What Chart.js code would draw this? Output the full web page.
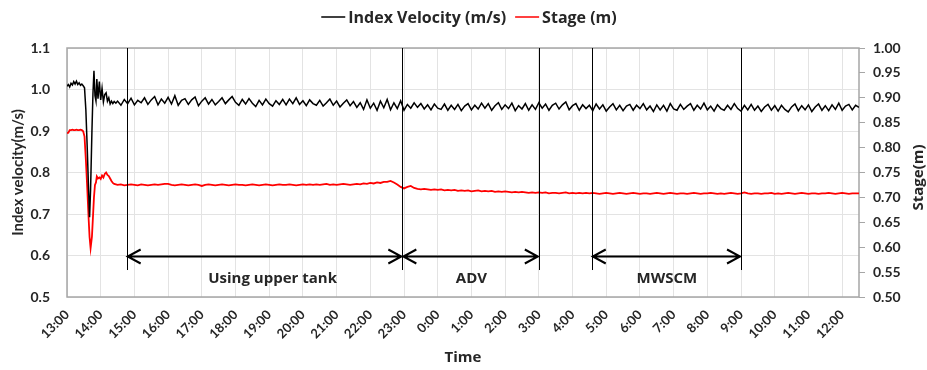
<!DOCTYPE html>
<html>
<head>
<meta charset="utf-8">
<script src="https://cdn.jsdelivr.net/npm/chart.js@4.4.1/dist/chart.umd.min.js"></script>
<style>
  html, body { margin: 0; padding: 0; background: #fff; }
  #wrap { width: 927px; height: 370px; position: relative; }
</style>
</head>
<body>
<div id="wrap"><canvas id="chart"></canvas></div>
<script>
// x axis: hours after 13:00
const hourLabels = ['13:00', '14:00', '15:00', '16:00', '17:00', '18:00', '19:00', '20:00',
    '21:00', '22:00', '23:00', '0:00', '1:00', '2:00', '3:00', '4:00', '5:00', '6:00',
    '7:00', '8:00', '9:00', '10:00', '11:00', '12:00'];

// first 1.5 h (drawdown + recovery), irregular sampling
const earlyHours = [0, 0.04, 0.08, 0.12, 0.16, 0.20, 0.24, 0.28, 0.32, 0.36, 0.40, 0.44, 0.48,
    0.52, 0.56, 0.60, 0.64, 0.67, 0.70, 0.74, 0.77, 0.80, 0.83, 0.86, 0.885, 0.92, 0.96, 1.00,
    1.04, 1.08, 1.12, 1.16, 1.20, 1.24, 1.28, 1.32, 1.36, 1.40, 1.45];
const earlyVelocity = [1.008, 1.012, 1.006, 1.015, 1.011, 1.019, 1.013, 1.020, 1.012, 1.016, 1.010, 1.013, 1.009,
    1.004, 0.950, 0.860, 0.760, 0.692, 0.760, 0.900, 0.990, 1.045, 0.985, 0.972, 1.025, 0.978, 1.019, 0.975,
    1.003, 0.970, 0.988, 0.992, 0.972, 0.980, 0.965, 0.972, 0.966, 0.971, 0.967];
const earlyStage = [0.829, 0.830, 0.835, 0.835, 0.836, 0.835, 0.835, 0.836, 0.835, 0.835, 0.836, 0.835, 0.833,
    0.822, 0.775, 0.720, 0.660, 0.620, 0.598, 0.621, 0.660, 0.700, 0.725, 0.730, 0.742, 0.738, 0.740, 0.737,
    0.744, 0.740, 0.747, 0.750, 0.745, 0.743, 0.738, 0.733, 0.729, 0.727, 0.726];

// from 14:30 on, one sample every 6 minutes (0.1 h)
const regularStart = 1.5;
const regularStep = 0.1;
const regularVelocity = [
    0.972, 0.962, 0.976, 0.966, 0.979, 0.963, 0.974, 0.968, 0.980, 0.964,
    0.975, 0.983, 0.963, 0.977, 0.967, 0.981, 0.965, 0.985, 0.962, 0.974,
    0.978, 0.964, 0.975, 0.982, 0.961, 0.972, 0.980, 0.965, 0.976, 0.963,
    0.971, 0.980, 0.966, 0.975, 0.983, 0.969, 0.962, 0.976, 0.965, 0.978,
    0.967, 0.959, 0.974, 0.963, 0.977, 0.966, 0.960, 0.973, 0.964, 0.976,
    0.963, 0.977, 0.966, 0.980, 0.964, 0.973, 0.961, 0.975, 0.966, 0.962,
    0.974, 0.960, 0.968, 0.977, 0.962, 0.972, 0.958, 0.967, 0.975, 0.961,
    0.971, 0.957, 0.968, 0.952, 0.975, 0.955, 0.967, 0.950, 0.972, 0.956,
    0.976, 0.951, 0.968, 0.954, 0.973, 0.950, 0.964, 0.955, 0.968, 0.957,
    0.966, 0.953, 0.963, 0.951, 0.965, 0.955, 0.952, 0.965, 0.950, 0.962,
    0.952, 0.964, 0.949, 0.960, 0.966, 0.951, 0.962, 0.953, 0.967, 0.955,
    0.966, 0.950, 0.961, 0.968, 0.952, 0.963, 0.954, 0.967, 0.949, 0.961,
    0.953, 0.966, 0.950, 0.963, 0.952, 0.968, 0.955, 0.965, 0.950, 0.962,
    0.967, 0.953, 0.963, 0.970, 0.951, 0.961, 0.966, 0.950, 0.963, 0.954,
    0.962, 0.949, 0.965, 0.953, 0.963, 0.948, 0.958, 0.966, 0.951, 0.962,
    0.949, 0.960, 0.964, 0.950, 0.962, 0.954, 0.966, 0.951, 0.960, 0.947,
    0.963, 0.951, 0.962, 0.948, 0.966, 0.953, 0.950, 0.964, 0.952, 0.960,
    0.966, 0.950, 0.962, 0.953, 0.967, 0.951, 0.960, 0.948, 0.963, 0.954,
    0.950, 0.962, 0.952, 0.966, 0.954, 0.948, 0.962, 0.951, 0.964, 0.950,
    0.960, 0.947, 0.958, 0.964, 0.950, 0.961, 0.948, 0.962, 0.952, 0.946,
    0.958, 0.965, 0.949, 0.961, 0.951, 0.963, 0.947, 0.958, 0.965, 0.950,
    0.961, 0.949, 0.963, 0.952, 0.967, 0.950, 0.960, 0.964, 0.951, 0.962,
    0.957];
const regularStage = [
    0.725, 0.726, 0.724, 0.725, 0.726, 0.725, 0.724, 0.726, 0.725, 0.724,
    0.725, 0.726, 0.725, 0.726, 0.727, 0.727, 0.725, 0.724, 0.725, 0.726,
    0.725, 0.724, 0.725, 0.726, 0.725, 0.723, 0.725, 0.726, 0.725, 0.724,
    0.725, 0.726, 0.725, 0.724, 0.725, 0.726, 0.725, 0.725, 0.724, 0.725,
    0.726, 0.725, 0.724, 0.725, 0.726, 0.725, 0.724, 0.725, 0.726, 0.725,
    0.725, 0.726, 0.725, 0.724, 0.725, 0.726, 0.725, 0.726, 0.725, 0.726,
    0.725, 0.726, 0.727, 0.725, 0.726, 0.725, 0.726, 0.727, 0.726, 0.725,
    0.726, 0.727, 0.726, 0.728, 0.727, 0.729, 0.728, 0.730, 0.729, 0.731,
    0.731, 0.733, 0.730, 0.726, 0.721, 0.718, 0.721, 0.723, 0.719, 0.717,
    0.716, 0.717, 0.716, 0.715, 0.716, 0.715, 0.716, 0.714, 0.715, 0.714,
    0.715, 0.713, 0.714, 0.713, 0.714, 0.712, 0.713, 0.714, 0.712, 0.713,
    0.712, 0.713, 0.711, 0.712, 0.711, 0.712, 0.711, 0.710, 0.711, 0.710,
    0.711, 0.710, 0.709, 0.710, 0.709, 0.710, 0.709, 0.710, 0.708, 0.709,
    0.709, 0.708, 0.709, 0.710, 0.708, 0.709, 0.708, 0.709, 0.708, 0.709,
    0.708, 0.709, 0.708, 0.707, 0.708, 0.709, 0.708, 0.707, 0.708, 0.709,
    0.708, 0.707, 0.708, 0.709, 0.708, 0.707, 0.708, 0.708, 0.707, 0.708,
    0.709, 0.708, 0.707, 0.708, 0.709, 0.708, 0.707, 0.708, 0.708, 0.707,
    0.708, 0.709, 0.708, 0.707, 0.708, 0.708, 0.709, 0.708, 0.707, 0.708,
    0.707, 0.708, 0.709, 0.708, 0.707, 0.708, 0.710, 0.708, 0.707, 0.708,
    0.708, 0.707, 0.708, 0.708, 0.709, 0.707, 0.708, 0.707, 0.708, 0.709,
    0.708, 0.707, 0.708, 0.709, 0.708, 0.707, 0.708, 0.708, 0.707, 0.708,
    0.708, 0.709, 0.708, 0.707, 0.708, 0.709, 0.708, 0.707, 0.708, 0.708,
    0.708];

// test phases (hours after 13:00)
const phaseBounds = [1.77, 9.95, 14, 15.57, 20];
const phases = [
    { label: 'Using upper tank', start: 1.77, end: 9.95, textAt: 6.1 },
    { label: 'ADV', start: 9.95, end: 14, textAt: 12 },
    { label: 'MWSCM', start: 15.57, end: 20, textAt: 17.8 }
];

const regularHours = regularVelocity.map((_, i) => regularStart + i * regularStep);
const sampleHours = earlyHours.concat(regularHours);
const velocity = earlyVelocity.concat(regularVelocity);
const stage = earlyStage.concat(regularStage);

const FONT = "Lato, 'Open Sans', sans-serif";
const WIDE_FONT = "'Open Sans', Lato, sans-serif";
const TEXT = '#262626';

const toPoints = (xs, ys) => xs.map((x, i) => ({ x: x, y: ys[i] }));

const overlayPlugin = {
    id: 'overlay',
    beforeDatasetsDraw(chart) {
        const { ctx, chartArea: a } = chart;
        ctx.save();
        ctx.strokeStyle = '#a6a6a6';
        ctx.lineWidth = 1.5;
        ctx.strokeRect(a.left, a.top, a.right - a.left, a.bottom - a.top);
        ctx.restore();
    },
    afterDatasetsDraw(chart) {
        const { ctx, chartArea: a, scales } = chart;
        const xs = scales.x, ys = scales.y;
        ctx.save();

        // phase boundary lines
        ctx.strokeStyle = '#000';
        ctx.lineWidth = 1;
        const lineBottom = ys.getPixelForValue(0.565);
        phaseBounds.forEach(h => {
            const px = Math.round(xs.getPixelForValue(h)) + 0.5;
            ctx.beginPath();
            ctx.moveTo(px, a.top);
            ctx.lineTo(px, lineBottom);
            ctx.stroke();
        });

        // double arrows + labels
        const ay = Math.round(ys.getPixelForValue(0.6)) + 0.5;
        ctx.lineWidth = 2;
        phases.forEach(p => {
            const x1 = xs.getPixelForValue(p.start) + 1;
            const x2 = xs.getPixelForValue(p.end) - 1;
            ctx.beginPath();
            ctx.moveTo(x1, ay);
            ctx.lineTo(x2, ay);
            ctx.moveTo(x1 + 13, ay - 7);
            ctx.lineTo(x1, ay);
            ctx.lineTo(x1 + 13, ay + 7);
            ctx.moveTo(x2 - 13, ay - 7);
            ctx.lineTo(x2, ay);
            ctx.lineTo(x2 - 13, ay + 7);
            ctx.stroke();
        });
        ctx.fillStyle = TEXT;
        ctx.font = 'bold 15px ' + WIDE_FONT;
        ctx.textAlign = 'center';
        ctx.textBaseline = 'middle';
        const ty = ys.getPixelForValue(0.545);
        phases.forEach(p => ctx.fillText(p.label, xs.getPixelForValue(p.textAt), ty));
        ctx.restore();
    },
    afterDraw(chart) {
        const { ctx, chartArea: a } = chart;
        ctx.save();
        ctx.fillStyle = TEXT;
        ctx.textBaseline = 'middle';

        // axis titles
        ctx.font = 'bold 15px ' + WIDE_FONT;
        ctx.textAlign = 'center';
        ctx.fillText('Time', (a.left + a.right) / 2, 358);
        const midY = (a.top + a.bottom) / 2;
        ctx.save();
        ctx.translate(919, midY + 5);
        ctx.rotate(-Math.PI / 2);
        ctx.fillText('Stage(m)', 0, 0);
        ctx.restore();
        ctx.font = 'bold 15px ' + FONT;
        ctx.save();
        ctx.translate(18, midY);
        ctx.rotate(-Math.PI / 2);
        ctx.fillText('Index velocity(m/s)', 0, 0);
        ctx.restore();

        // legend
        ctx.font = 'bold 16px ' + WIDE_FONT;
        ctx.textAlign = 'left';
        const items = chart.data.datasets.map(d => ({ text: d.label, color: d.borderColor }));
        const lineLen = 24, gap = 3, itemGap = 9;
        const total = items.reduce((s, it) => s + lineLen + gap + ctx.measureText(it.text).width, 0) + itemGap;
        let lx = 469 - total / 2;
        const ly = 17;
        items.forEach(it => {
            ctx.strokeStyle = it.color;
            ctx.lineWidth = 1.5;
            ctx.beginPath();
            ctx.moveTo(lx, ly);
            ctx.lineTo(lx + lineLen, ly);
            ctx.stroke();
            lx += lineLen + gap;
            ctx.fillText(it.text, lx, ly + 1);
            lx += ctx.measureText(it.text).width + itemGap;
        });
        ctx.restore();
    }
};

new Chart(document.getElementById('chart'), {
    type: 'line',
    data: {
        datasets: [{
            label: 'Index Velocity (m/s)',
            data: toPoints(sampleHours, velocity),
            borderColor: '#000000',
            backgroundColor: '#000000',
            borderWidth: 1.5,
            pointRadius: 0,
            tension: 0,
            yAxisID: 'y'
        }, {
            label: 'Stage (m)',
            data: toPoints(sampleHours, stage),
            borderColor: '#ff0000',
            backgroundColor: '#ff0000',
            borderWidth: 1.8,
            pointRadius: 0,
            tension: 0,
            yAxisID: 'y2'
        }]
    },
    options: {
        responsive: true,
        maintainAspectRatio: false,
        animation: false,
        layout: { padding: { top: 48, left: 0, right: 0, bottom: 0 } },
        plugins: {
            legend: { display: false },
            tooltip: { enabled: false }
        },
        scales: {
            x: {
                type: 'linear',
                min: 0,
                max: 23.5,
                afterBuildTicks: scale => {
                    scale.ticks = hourLabels.map((_, i) => ({ value: i }));
                },
                afterFit: scale => { scale.height = 73; },
                grid: { color: '#e3e3e3', drawTicks: false },
                border: { display: false },
                ticks: {
                    autoSkip: false,
                    minRotation: 45,
                    maxRotation: 45,
                    padding: 10,
                    color: TEXT,
                    font: { family: FONT, size: 13, weight: 'bold' },
                    callback: v => hourLabels[v]
                }
            },
            y: {
                position: 'left',
                min: 0.5,
                max: 1.1,
                afterFit: scale => { scale.width = 67; },
                grid: { color: '#e3e3e3', drawTicks: false },
                border: { display: false },
                ticks: {
                    stepSize: 0.1,
                    padding: 17,
                    color: TEXT,
                    font: { family: FONT, size: 14, weight: 'bold' },
                    callback: v => v.toFixed(1)
                }
            },
            y2: {
                position: 'right',
                min: 0.5,
                max: 1.0,
                afterFit: scale => { scale.width = 68; },
                grid: { drawOnChartArea: false, color: '#a6a6a6', tickLength: 6 },
                border: { display: false },
                ticks: {
                    stepSize: 0.05,
                    padding: 8,
                    color: TEXT,
                    font: { family: FONT, size: 14, weight: 'bold' },
                    callback: v => v.toFixed(2)
                }
            }
        }
    },
    plugins: [overlayPlugin]
});
</script>
</body>
</html>
